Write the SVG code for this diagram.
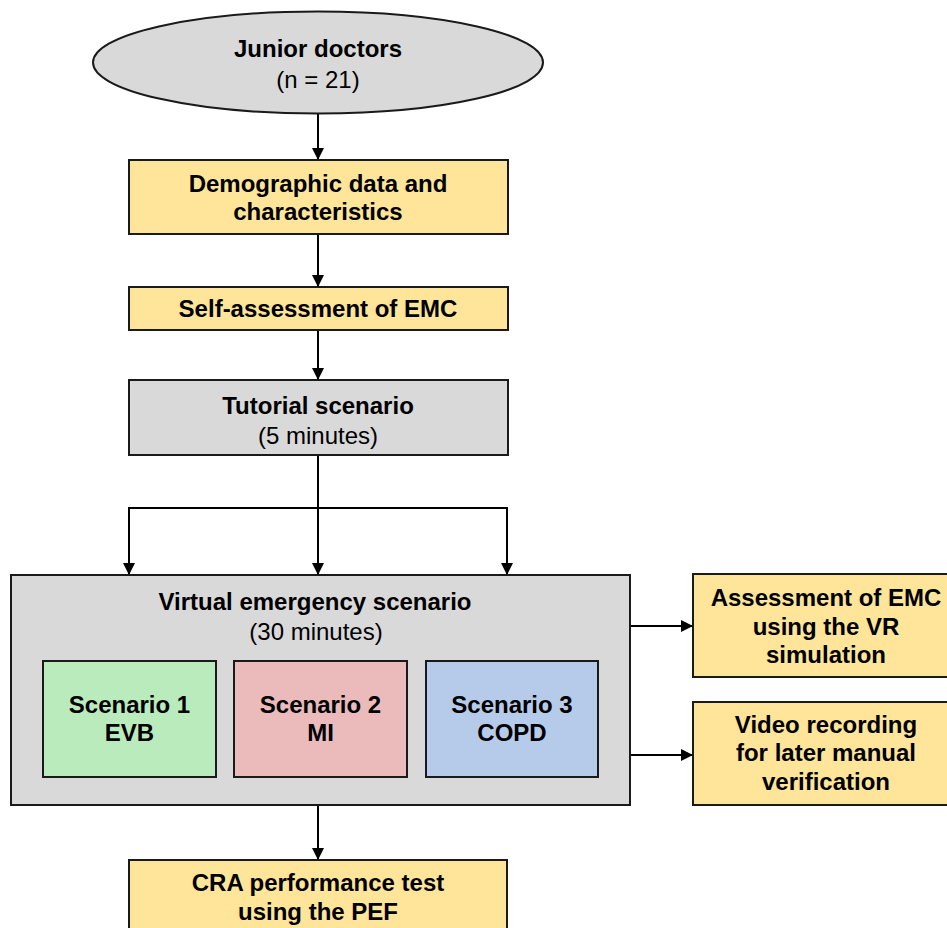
<svg xmlns="http://www.w3.org/2000/svg" width="947" height="928" viewBox="0 0 947 928">
<defs>
<marker id="ah" markerWidth="12" markerHeight="12" refX="11" refY="6" orient="auto" markerUnits="userSpaceOnUse">
<path d="M0,0 L12,6 L0,12 Z" fill="#000"/>
</marker>
<style>
.b{stroke:#1a1a1a;stroke-width:2}
.y{fill:#FFE599}
.g{fill:#D9D9D9}
.t{font-family:"Liberation Sans",Arial,sans-serif;font-size:24px;fill:#000;text-anchor:middle}
.bd{font-weight:bold}
.c{fill:none;stroke:#000;stroke-width:2}
</style>
</defs>
<rect width="947" height="928" fill="#fff"/>
<g id="connectors">
<path class="c" d="M318,113 V159" marker-end="url(#ah)"/>
<path class="c" d="M318,234 V286" marker-end="url(#ah)"/>
<path class="c" d="M318,330 V379" marker-end="url(#ah)"/>
<path class="c" d="M318,455 V574" marker-end="url(#ah)"/>
<path class="c" d="M129,574 V508 H507 V574" marker-end="url(#ah)"/>
<path class="c" d="M129,508 V574" marker-end="url(#ah)"/>
<path class="c" d="M630,626 H692" marker-end="url(#ah)"/>
<path class="c" d="M630,755 H692" marker-end="url(#ah)"/>
<path class="c" d="M318,805 V859" marker-end="url(#ah)"/>
</g>
<g id="junior">
<ellipse class="b g" cx="318" cy="62.5" rx="225" ry="51"/>
<text class="t bd" x="318" y="57">Junior doctors</text>
<text class="t" x="318" y="88">(n = 21)</text>
</g>
<g id="demographic">
<rect class="b y" x="129" y="160" width="379" height="74"/>
<text class="t bd" x="318" y="192">Demographic data and</text>
<text class="t bd" x="318" y="220">characteristics</text>
</g>
<g id="selfassess">
<rect class="b y" x="129" y="287" width="379" height="43"/>
<text class="t bd" x="318" y="317">Self-assessment of EMC</text>
</g>
<g id="tutorial">
<rect class="b g" x="129" y="380" width="379" height="75"/>
<text class="t bd" x="318" y="414">Tutorial scenario</text>
<text class="t" x="318" y="444">(5 minutes)</text>
</g>
<g id="virtual">
<rect class="b g" x="11" y="575" width="619" height="230"/>
<text class="t bd" x="315" y="610">Virtual emergency scenario</text>
<text class="t" x="316" y="640">(30 minutes)</text>
</g>
<g id="scenario1">
<rect class="b" fill="#BAEBBC" x="43" y="661" width="173" height="116"/>
<text class="t bd" x="129.5" y="713">Scenario 1</text>
<text class="t bd" x="129.5" y="741">EVB</text>
</g>
<g id="scenario2">
<rect class="b" fill="#EBBBBB" x="234" y="661" width="173" height="116"/>
<text class="t bd" x="320.5" y="713">Scenario 2</text>
<text class="t bd" x="320.5" y="741">MI</text>
</g>
<g id="scenario3">
<rect class="b" fill="#B6CBEA" x="426" y="661" width="172" height="116"/>
<text class="t bd" x="512" y="713">Scenario 3</text>
<text class="t bd" x="512" y="741">COPD</text>
</g>
<g id="assessment">
<rect class="b y" x="693" y="574" width="262" height="103"/>
<text class="t bd" x="826" y="606">Assessment of EMC</text>
<text class="t bd" x="826" y="635">using the VR</text>
<text class="t bd" x="826" y="663">simulation</text>
</g>
<g id="video">
<rect class="b y" x="693" y="702" width="262" height="103"/>
<text class="t bd" x="826" y="733">Video recording</text>
<text class="t bd" x="826" y="761">for later manual</text>
<text class="t bd" x="826" y="790">verification</text>
</g>
<g id="cra">
<rect class="b y" x="129" y="860" width="378" height="80"/>
<text class="t bd" x="318" y="891">CRA performance test</text>
<text class="t bd" x="318" y="920">using the PEF</text>
</g>
</svg>
